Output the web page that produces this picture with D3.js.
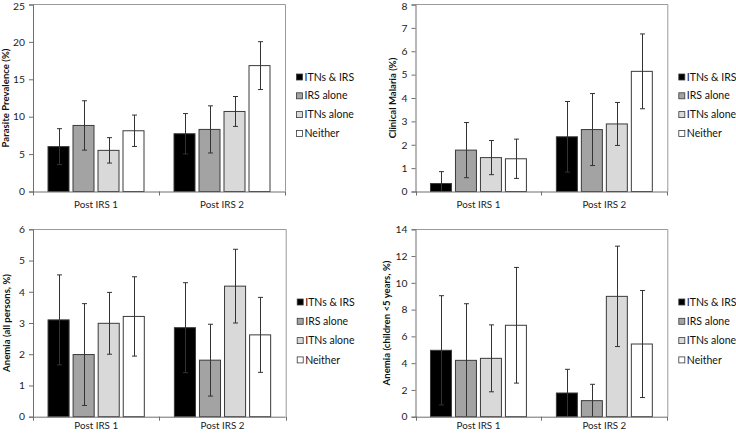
<!DOCTYPE html>
<html>
<head>
<meta charset="utf-8">
<script src="https://cdn.jsdelivr.net/npm/d3@7"></script>
<style>
  html, body { margin: 0; padding: 0; background: #fff; }
  svg { display: block; font-family: Lato, "Open Sans", sans-serif; }
</style>
</head>
<body>
<svg id="chart" width="736" height="434"></svg>
<script>
// ---- Data ----
const categories = ["Post IRS 1", "Post IRS 2"];
const series = ["ITNs & IRS", "IRS alone", "ITNs alone", "Neither"];
const seriesColors = ["#000000", "#a3a3a3", "#d9d9d9", "#ffffff"];

// Parasite prevalence (%)
const parasiteValues = [[6.0, 8.83, 5.5, 8.12], [7.72, 8.3, 10.7, 16.83]];
const parasiteErrors = [[2.4, 3.3, 1.7, 2.1], [2.7, 3.15, 2.0, 3.2]];
const parasiteTicks = [0, 5, 10, 15, 20, 25];

// Clinical malaria (%)
const malariaValues = [[0.34, 1.77, 1.45, 1.40], [2.34, 2.65, 2.89, 5.14]];
const malariaErrors = [[0.51, 1.18, 0.73, 0.84], [1.51, 1.54, 0.92, 1.6]];
const malariaTicks = [0, 1, 2, 3, 4, 5, 6, 7, 8];

// Anemia (all persons, %)
const anemiaAllValues = [[3.10, 1.99, 2.99, 3.21], [2.85, 1.81, 4.18, 2.62]];
const anemiaAllErrors = [[1.44, 1.63, 0.99, 1.27], [1.44, 1.15, 1.18, 1.2]];
const anemiaAllTicks = [0, 1, 2, 3, 4, 5, 6];

// Anemia (children <5 years, %)
const anemiaChildValues = [[4.96, 4.21, 4.36, 6.83], [1.77, 1.2, 8.99, 5.43]];
const anemiaChildErrors = [[4.08, 4.23, 2.5, 4.32], [1.77, 1.22, 3.75, 4.0]];
const anemiaChildTicks = [0, 2, 4, 6, 8, 10, 12, 14];

const panels = [
  { title: "Parasite Prevalence (%)", values: parasiteValues, errors: parasiteErrors, ticks: parasiteTicks,
    x0: 33, x1: 285, y0: 4.5, y1: 191.5, titleX: 6, catDy: 16.5 },
  { title: "Clinical Malaria (%)", values: malariaValues, errors: malariaErrors, ticks: malariaTicks,
    x0: 415.5, x1: 667.3, y0: 4.5, y1: 191.5, titleX: 393, catDy: 16.5 },
  { title: "Anemia (all persons, %)", values: anemiaAllValues, errors: anemiaAllErrors, ticks: anemiaAllTicks,
    x0: 33, x1: 285.7, y0: 229.3, y1: 416.7, titleX: 7, catDy: 12.8 },
  { title: "Anemia (children <5 years, %)", values: anemiaChildValues, errors: anemiaChildErrors, ticks: anemiaChildTicks,
    x0: 415.5, x1: 667.3, y0: 229.3, y1: 416.7, titleX: 387, catDy: 12.8 }
];

const svg = d3.select("#chart");
const FONT = 'Lato, "Open Sans", sans-serif';
const axisColor = "#6e6e6e";
const borderColor = "#9a9a9a";
const outline = "#3a3a3a";
const errColor = "#333333";

function drawPanel(p) {
  const g = svg.append("g");
  const yMax = p.ticks[p.ticks.length - 1];
  const y = d3.scaleLinear().domain([0, yMax]).range([p.y1, p.y0]);
  const x0 = d3.scaleBand().domain(categories).range([p.x0, p.x1]).padding(0);
  const x1 = d3.scaleBand().domain(series).range([0, x0.bandwidth()]).paddingInner(0.16).paddingOuter(0.6);

  // plot border (top & right)
  g.append("path")
    .attr("d", `M${p.x0},${Math.floor(p.y0) + 0.5}H${p.x1 + 0.5}V${p.y1}`)
    .attr("fill", "none").attr("stroke", borderColor).attr("stroke-width", 1);

  // bars
  categories.forEach((c, ci) => {
    series.forEach((s, si) => {
      const v = p.values[ci][si];
      const bx = x0(c) + x1(s);
      g.append("rect")
        .attr("x", bx).attr("y", y(v))
        .attr("width", x1.bandwidth()).attr("height", y(0) - y(v))
        .attr("fill", seriesColors[si])
        .attr("stroke", outline).attr("stroke-width", 1);
    });
  });

  // error bars
  categories.forEach((c, ci) => {
    series.forEach((s, si) => {
      const v = p.values[ci][si], e = p.errors[ci][si];
      const cx = Math.round(x0(c) + x1(s) + x1.bandwidth() / 2) + 0.5;
      const hi = v + e, lo = Math.max(0, v - e);
      const eg = g.append("g").attr("stroke", errColor).attr("stroke-width", 1).attr("fill", "none");
      eg.append("line").attr("x1", cx).attr("x2", cx).attr("y1", y(hi)).attr("y2", y(lo));
      eg.append("line").attr("x1", cx - 2.5).attr("x2", cx + 2.5).attr("y1", y(hi)).attr("y2", y(hi));
      if (v - e > 0) {
        eg.append("line").attr("x1", cx - 2.5).attr("x2", cx + 2.5).attr("y1", y(lo)).attr("y2", y(lo));
      }
    });
  });

  // y axis
  const yAxis = d3.axisLeft(y).tickValues(p.ticks).tickSize(4).tickPadding(4).tickFormat(d3.format("d"));
  const ya = g.append("g").attr("transform", `translate(${p.x0},0)`).call(yAxis)
    .attr("font-family", FONT).attr("font-size", 10.3);
  ya.select(".domain").attr("stroke", axisColor);
  ya.selectAll(".tick line").attr("stroke", axisColor);
  ya.selectAll(".tick text").attr("fill", "#222")
    .attr("dy", d => (y(d) < 8 ? "0.5em" : "0.32em"));

  // x axis
  const xAxis = d3.axisBottom(x0).tickSize(0).tickPadding(0);
  const xa = g.append("g").attr("transform", `translate(0,${p.y1})`).call(xAxis)
    .attr("font-family", FONT).attr("font-size", 9.8);
  xa.select(".domain").attr("stroke", axisColor).attr("d", `M${p.x0},0.5H${p.x1}`);
  xa.selectAll(".tick line").remove();
  xa.selectAll(".tick text").attr("y", p.catDy).attr("dy", 0).attr("fill", "#222");
  // category separators
  const seps = [p.x0, (p.x0 + p.x1) / 2, p.x1];
  xa.selectAll("line.sep").data(seps).enter().append("line")
    .attr("class", "sep")
    .attr("x1", d => Math.round(d) + 0.5).attr("x2", d => Math.round(d) + 0.5)
    .attr("y1", 0).attr("y2", 4).attr("stroke", axisColor);

  // y title
  g.append("text")
    .attr("transform", `translate(${p.titleX},${(p.y0 + p.y1) / 2}) rotate(-90)`)
    .attr("text-anchor", "middle").attr("dy", "0.35em")
    .style("font-size", "9.6px").style("font-weight", "bold").attr("fill", "#111")
    .text(p.title);

  // legend
  const lx = p.x1 + 11.5;
  const ly0 = (p.y0 + p.y1) / 2 - 21;
  const step = p.y0 < 100 ? 18.8 : 19.3;
  series.forEach((s, si) => {
    const yy = ly0 + si * step;
    g.append("rect").attr("x", lx).attr("y", yy - 3).attr("width", 6).attr("height", 6)
      .attr("fill", seriesColors[si]).attr("stroke", outline).attr("stroke-width", 0.8);
    g.append("text").attr("x", lx + 8).attr("y", yy).attr("dy", "0.35em")
      .style("font-size", "10.5px").attr("fill", "#111").text(s);
  });
}

panels.forEach(drawPanel);
</script>
</body>
</html>
